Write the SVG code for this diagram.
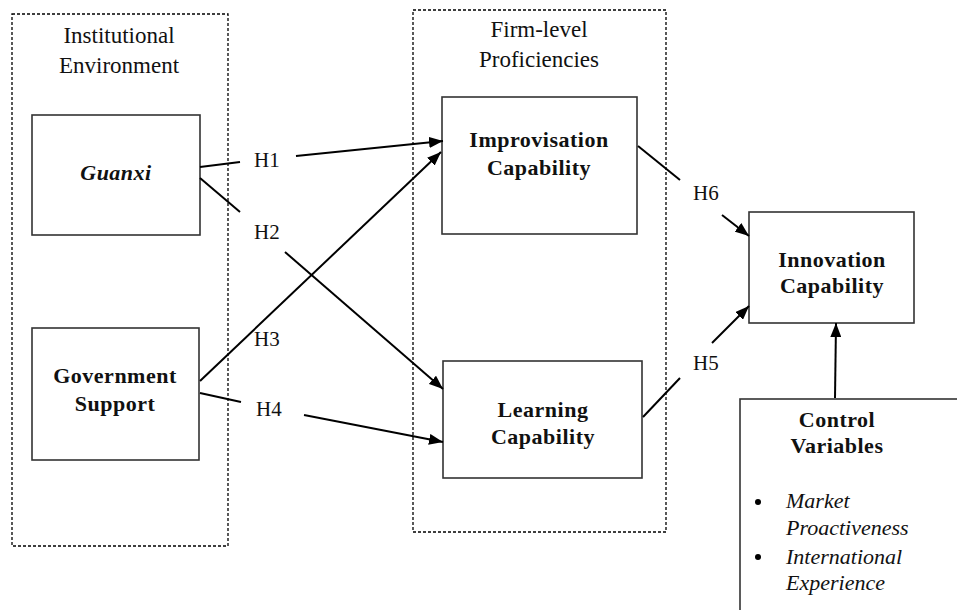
<svg xmlns="http://www.w3.org/2000/svg" width="957" height="610" viewBox="0 0 957 610">
<defs>
<marker id="arr" markerUnits="userSpaceOnUse" markerWidth="15" markerHeight="11" refX="14" refY="5.5" orient="auto">
<path d="M0,0 L14,5.5 L0,11 z" fill="#000"/>
</marker>
<style>
.grp{fill:none;stroke:#000;stroke-width:1.3;stroke-dasharray:3,2}
.box{fill:#fff;stroke:#333;stroke-width:1.6}
.t{font-family:"Liberation Serif","Times New Roman",serif;fill:#111;text-anchor:middle}
.n{font-size:23px}
.h{font-size:21px;text-anchor:start}
.b{font-size:22px;font-weight:bold;letter-spacing:0.5px}
.i{font-size:22px;font-style:italic;text-anchor:start}
.c{fill:none;stroke:#000;stroke-width:2}
</style>
</defs>
<rect width="957" height="610" fill="#fff"/>
<g id="institutional-environment">
<rect class="grp" x="12" y="14" width="216" height="532"/>
<text class="t n" x="119" y="43">Institutional</text>
<text class="t n" x="119" y="73">Environment</text>
</g>
<g id="firm-level-proficiencies">
<rect class="grp" x="413" y="10" width="253" height="522"/>
<text class="t n" x="539" y="37">Firm-level</text>
<text class="t n" x="539" y="67">Proficiencies</text>
</g>
<g id="guanxi">
<rect class="box" x="32" y="115" width="168" height="120"/>
<text class="t b" x="116" y="180" font-style="italic">Guanxi</text>
</g>
<g id="government-support">
<rect class="box" x="32" y="328" width="167" height="132"/>
<text class="t b" x="115" y="383">Government</text>
<text class="t b" x="115" y="411">Support</text>
</g>
<g id="improvisation-capability">
<rect class="box" x="442" y="97" width="195" height="137"/>
<text class="t b" x="539" y="147">Improvisation</text>
<text class="t b" x="539" y="175">Capability</text>
</g>
<g id="learning-capability">
<rect class="box" x="443" y="361" width="199" height="117"/>
<text class="t b" x="543" y="417">Learning</text>
<text class="t b" x="543" y="444">Capability</text>
</g>
<g id="innovation-capability">
<rect class="box" x="749" y="212" width="165" height="111"/>
<text class="t b" x="832" y="267">Innovation</text>
<text class="t b" x="832" y="293">Capability</text>
</g>
<g id="control-variables">
<rect class="box" x="740" y="399" width="240" height="240"/>
<text class="t b" x="837" y="427">Control</text>
<text class="t b" x="837" y="453">Variables</text>
<circle cx="758" cy="502" r="3" fill="#000"/>
<circle cx="758" cy="557" r="3" fill="#000"/>
<text class="t i" x="786" y="508">Market</text>
<text class="t i" x="786" y="535">Proactiveness</text>
<text class="t i" x="786" y="564">International</text>
<text class="t i" x="786" y="590">Experience</text>
</g>
<g id="connectors">
<line class="c" x1="200" y1="167" x2="240" y2="162"/>
<line class="c" x1="296" y1="156" x2="443" y2="141" marker-end="url(#arr)"/>
<line class="c" x1="200" y1="178" x2="240" y2="212"/>
<line class="c" x1="285" y1="252" x2="443" y2="389" marker-end="url(#arr)"/>
<line class="c" x1="200" y1="381" x2="441" y2="152" marker-end="url(#arr)"/>
<line class="c" x1="200" y1="393" x2="241" y2="402"/>
<line class="c" x1="304" y1="415" x2="443" y2="442" marker-end="url(#arr)"/>
<line class="c" x1="638" y1="146" x2="680" y2="180"/>
<line class="c" x1="722" y1="215" x2="749" y2="236" marker-end="url(#arr)"/>
<line class="c" x1="643" y1="417" x2="680" y2="378"/>
<line class="c" x1="712" y1="343" x2="749" y2="306" marker-end="url(#arr)"/>
<line class="c" x1="835" y1="398" x2="836" y2="323" marker-end="url(#arr)"/>
<text class="t h" x="254" y="167">H1</text>
<text class="t h" x="254" y="239">H2</text>
<text class="t h" x="254" y="346">H3</text>
<text class="t h" x="256" y="416">H4</text>
<text class="t h" x="693" y="370">H5</text>
<text class="t h" x="693" y="200">H6</text>
</g>
</svg>
